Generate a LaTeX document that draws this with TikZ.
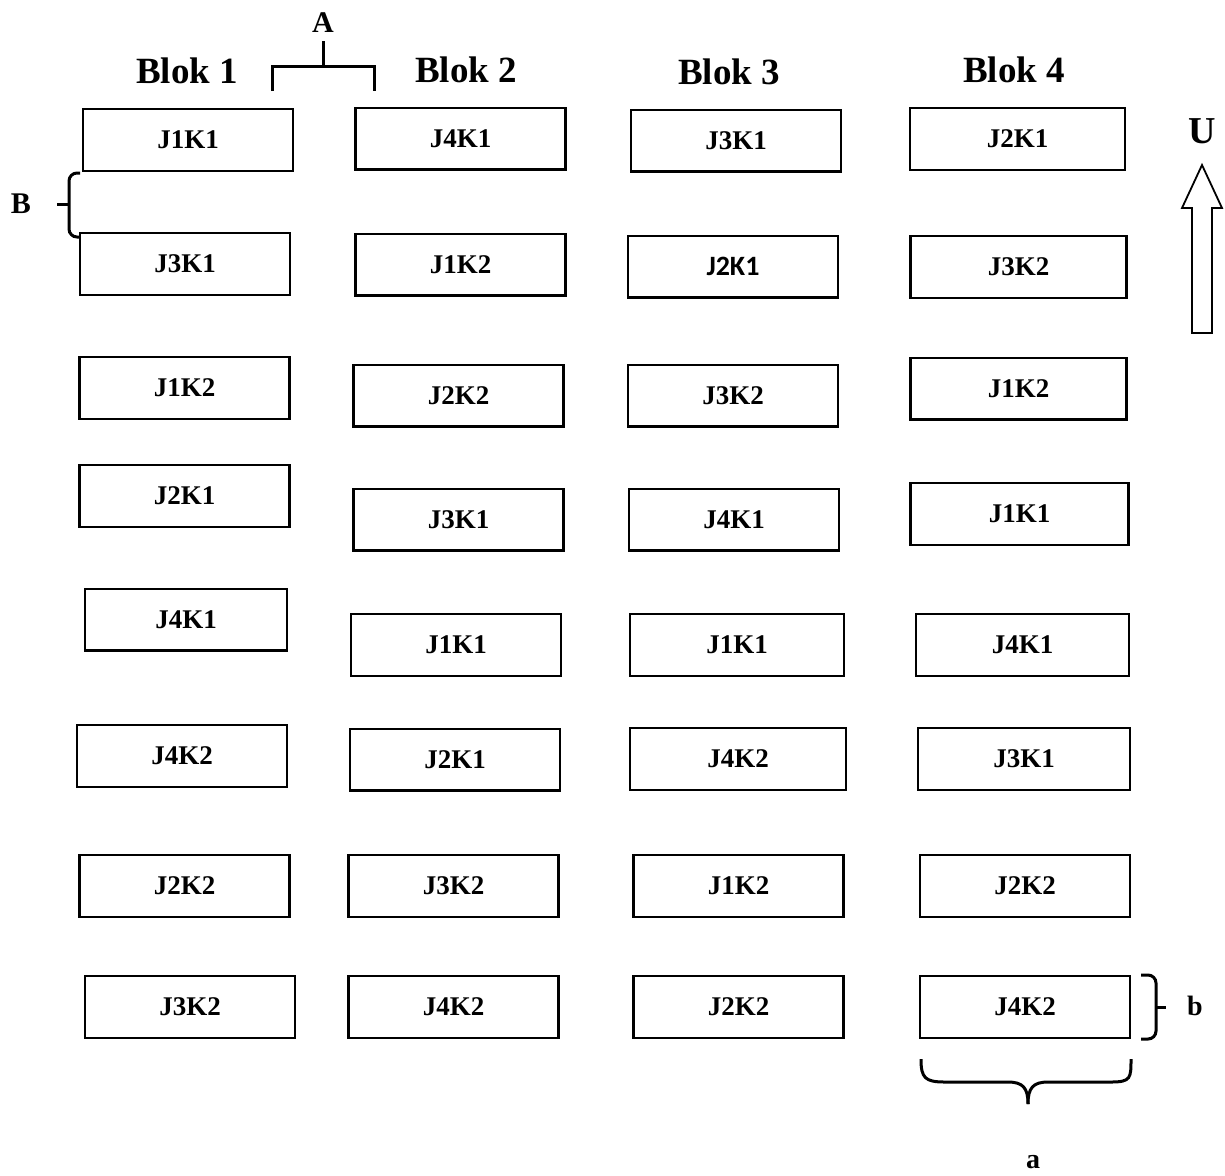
\documentclass[tikz,border=0pt]{standalone}
\usepackage{fontspec}
\setmainfont{Liberation Serif}
\newfontfamily\calibrifont{Carlito}
\usepackage{amsmath}

\begin{document}
\begin{tikzpicture}[x=0.5pt,y=-0.5pt]

      \useasboundingbox (0,0) rectangle (1225,1175);

      % block titles
      \begin{scope}[every node/.style={font=\bfseries\fontsize{18.5}{20}\selectfont,anchor=base}]
        \node (blok1) at (187,83) {Blok 1};
        \node (blok2) at (466,82) {Blok 2};
        \node (blok3) at (729,84) {Blok 3};
        \node (blok4) at (1014,82) {Blok 4};
      \end{scope}

      % plots
      \begin{scope}[every node/.style={draw,line width=1.2pt,minimum width=105pt,minimum height=30.8pt,
          inner sep=0pt,font=\bfseries\fontsize{13.5}{15}\selectfont}]
        \node (11) at (188,140)  {J1K1};
        \node (12) at (185,264)  {J3K1};
        \node (13) at (184.5,388) {J1K2};
        \node (14) at (184.5,496) {J2K1};
        \node[minimum width=101pt] (15) at (186,619.5) {J4K1};
        \node (16) at (182,756)  {J4K2};
        \node (17) at (184.5,886) {J2K2};
        \node (18) at (190,1007) {J3K2};

        \node (21) at (460.5,138.5) {J4K1};
        \node (22) at (460.5,264.5) {J1K2};
        \node (23) at (458.5,395.5) {J2K2};
        \node (24) at (458.5,519.5) {J3K1};
        \node (25) at (456,645)   {J1K1};
        \node (26) at (455,759.5) {J2K1};
        \node (27) at (453.5,886) {J3K2};
        \node (28) at (453.5,1007) {J4K2};

        \node (31) at (736,140.5) {J3K1};
        \node[font=\calibrifont\bfseries\fontsize{14}{16}\selectfont] (32) at (733,266.5) {J2K1};
        \node (33) at (733,395.5) {J3K2};
        \node (34) at (734,519.5) {J4K1};
        \node[minimum width=107pt] (35) at (737,645) {J1K1};
        \node[minimum width=108pt] (36) at (738,759) {J4K2};
        \node (37) at (738.5,886) {J1K2};
        \node (38) at (738.5,1007) {J2K2};

        \node[minimum width=107.5pt] (41) at (1017.5,139) {J2K1};
        \node[minimum width=108pt] (42) at (1018.5,267) {J3K2};
        \node[minimum width=108pt] (43) at (1018.5,388.5) {J1K2};
        \node[minimum width=109pt] (44) at (1019.5,514) {J1K1};
        \node[minimum width=106.5pt] (45) at (1022.5,645) {J4K1};
        \node[minimum width=106pt] (46) at (1024,759) {J3K1};
        \node (47) at (1025,886) {J2K2};
        \node (48) at (1025,1007) {J4K2};
      \end{scope}

      % letters
      \begin{scope}[every node/.style={font=\bfseries\fontsize{15}{17}\selectfont}]
        \node (A) at (323,23) {A};
        \node (B) at (21,204) {B};
        \node[font=\bfseries\fontsize{19}{21}\selectfont] (U) at (1202,131) {U};
        \node[font=\bfseries\fontsize{14}{16}\selectfont] (b) at (1195,1006) {b};
        \node[font=\bfseries\fontsize{14}{16}\selectfont] (a) at (1033,1162) {a};
      \end{scope}

      % brackets
      \begin{scope}[line width=1.5pt]
        \draw (272,91) -- (272,66) -- (374,66) -- (374,91);
        \draw (323,66) -- (323,41);
        \draw[rounded corners=4pt] (80,173) -- (69,173) -- (69,237) -- (80,237);
        \draw (69,204) -- (57,204);
        \draw[rounded corners=4pt] (1141,975) -- (1156,975) -- (1156,1039) -- (1141,1039);
        \draw (1156,1007) -- (1166,1007);
        \draw (921,1059) .. controls (921,1078) and (925,1082) .. (945,1082) -- (1008,1082)
          .. controls (1023,1082) and (1028,1088) .. (1028,1104);
        \draw (1028,1104) .. controls (1028,1088) and (1033,1082) .. (1048,1082) -- (1111,1082)
          .. controls (1131,1082) and (1131,1078) .. (1131,1059);
      \end{scope}

      % north arrow
      \draw[line width=0.9pt] (1192,333) -- (1192,208) -- (1182,208) -- (1202,165)
        -- (1222,208) -- (1212,208) -- (1212,333) -- cycle;

\end{tikzpicture}
\end{document}
